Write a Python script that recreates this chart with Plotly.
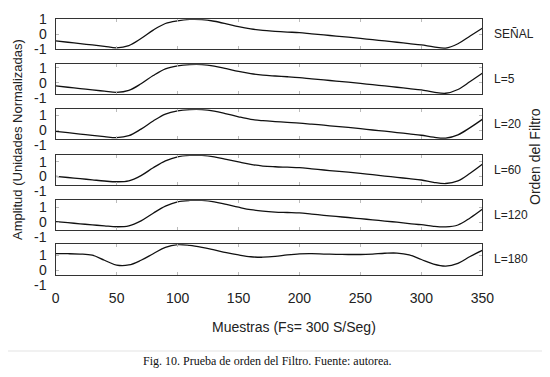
import plotly.graph_objects as go

# ---------------- data ----------------
muestras = list(range(0, 351, 10))

senal = [-0.44, -0.53, -0.62, -0.71, -0.80, -0.90, -0.75, -0.28, 0.28, 0.72, 0.90, 0.99,
         0.98, 0.87, 0.70, 0.51, 0.36, 0.26, 0.20, 0.15, 0.11, 0.03, -0.04, -0.12, -0.19,
         -0.27, -0.36, -0.44, -0.53, -0.62, -0.71, -0.84, -0.92, -0.63, -0.11, 0.40]
l5 = [-0.21, -0.30, -0.39, -0.48, -0.56, -0.64, -0.51, -0.07, 0.48, 0.93, 1.13, 1.21,
      1.21, 1.11, 0.94, 0.76, 0.61, 0.51, 0.45, 0.40, 0.34, 0.26, 0.19, 0.11, 0.04,
      -0.04, -0.13, -0.21, -0.30, -0.39, -0.48, -0.62, -0.70, -0.45, 0.08, 0.63]
l20 = [-0.09, -0.18, -0.27, -0.36, -0.44, -0.51, -0.38, 0.06, 0.60, 1.06, 1.28, 1.36,
       1.36, 1.26, 1.08, 0.88, 0.71, 0.62, 0.56, 0.51, 0.46, 0.39, 0.32, 0.24, 0.17,
       0.09, 0.00, -0.08, -0.17, -0.26, -0.35, -0.48, -0.54, -0.32, 0.16, 0.71]
l60 = [0.00, -0.08, -0.16, -0.24, -0.32, -0.37, -0.31, 0.05, 0.58, 1.05, 1.33, 1.42,
       1.42, 1.33, 1.16, 0.98, 0.81, 0.70, 0.65, 0.62, 0.59, 0.51, 0.43, 0.35, 0.28,
       0.20, 0.11, 0.02, -0.07, -0.16, -0.25, -0.41, -0.49, -0.31, 0.21, 0.82]
l120 = [0.03, -0.04, -0.12, -0.19, -0.26, -0.32, -0.26, 0.08, 0.60, 1.08, 1.38, 1.47,
        1.47, 1.38, 1.20, 1.01, 0.84, 0.74, 0.68, 0.65, 0.62, 0.54, 0.46, 0.38, 0.31,
        0.23, 0.15, 0.07, -0.01, -0.10, -0.18, -0.29, -0.33, -0.20, 0.28, 0.87]
l180 = [1.09, 1.09, 1.07, 0.99, 0.66, 0.34, 0.35, 0.66, 1.09, 1.51, 1.69, 1.64,
        1.51, 1.34, 1.16, 1.01, 0.89, 0.86, 0.91, 1.01, 1.08, 1.09, 1.07, 1.05, 1.04,
        1.04, 1.07, 1.12, 1.13, 1.01, 0.71, 0.41, 0.28, 0.46, 0.91, 1.31]

series = [senal, l5, l20, l60, l120, l180]
series_labels = ["SEÑAL", "L=5", "L=20", "L=60", "L=120", "L=180"]

x_tickvals = [0, 50, 100, 150, 200, 250, 300, 350]
y_tickvals = [1, 0, -1]
y_ticktext = ["1", "0", "-1"]

# upper limit of each panel's y range (each panel spans 2 units)
y_top = [1.0, 1.23, 1.38, 1.43, 1.48, 1.71]
Y_SPAN = 2.0

# ---------------- layout geometry ----------------
# the page body adds an 8 px margin, so the figure is drawn 8 px in from the window corner
OFF = 8
W, H = 550 - 2 * OFF, 377 - 2 * OFF


def px_x(p):
    return (p - OFF) / W


def px_y(p):
    return 1 - (p - OFF) / H


x_dom = [px_x(55.7), px_x(482.3)]
panel_px = [(19.3, 49.3), (64.3, 94.3), (109.3, 139.3), (155.3, 184.7), (200.3, 229.7), (244.3, 274.7)]

FONT = "Arial, Liberation Sans, sans-serif"
TXT = "#222222"

fig = go.Figure()
layout = dict(
    width=W, height=H, autosize=False,
    margin=dict(l=0, r=0, t=0, b=0, autoexpand=False),
    paper_bgcolor="white", plot_bgcolor="white",
    showlegend=False,
    font=dict(family=FONT, size=14, color=TXT),
)
annotations = []

for i, (ys, lab) in enumerate(zip(series, series_labels)):
    k = i + 1
    xa = "x" if k == 1 else f"x{k}"
    ya = "y" if k == 1 else f"y{k}"
    lo, hi = y_top[i] - Y_SPAN, y_top[i]
    fig.add_trace(go.Scatter(x=muestras, y=ys, mode="lines", xaxis=xa, yaxis=ya,
                             line=dict(color="#111111", width=1.3, shape="spline"),
                             hoverinfo="skip"))
    top, bot = panel_px[i]
    last = (k == 6)
    layout["xaxis" if k == 1 else f"xaxis{k}"] = dict(
        domain=x_dom, range=[0, 350], anchor=ya,
        tickvals=x_tickvals, ticks="inside", ticklen=3, tickcolor="#bbbbbb",
        showline=True, linecolor="#333333", linewidth=1.3, mirror="ticks",
        showgrid=False, zeroline=False,
        showticklabels=last, tickfont=dict(size=14, color=TXT),
        ticklabelstandoff=10 if last else 0,
    )
    layout["yaxis" if k == 1 else f"yaxis{k}"] = dict(
        domain=[px_y(bot), px_y(top)], range=[lo, hi], anchor=xa,
        tickvals=y_tickvals, ticks="inside", ticklen=3, tickcolor="#bbbbbb",
        showline=True, linecolor="#333333", linewidth=1.3, mirror="ticks",
        showgrid=False, zeroline=False, showticklabels=False,
    )
    # y tick labels placed on the panel's own scale (some sit just below the box, as in the reference)
    for v, t in zip(y_tickvals, y_ticktext):
        annotations.append(dict(text=t, x=px_x(47.5), xref="paper", xanchor="right",
                                y=(v - lo) / (hi - lo), yref=f"{ya} domain", yanchor="middle",
                                showarrow=False, borderpad=0,
                                font=dict(size=14, color=TXT, family=FONT)))
    # series label at right
    annotations.append(dict(text=lab, x=px_x(491.7), xref="paper", xanchor="left",
                            y=0.5, yref=f"{ya} domain", yanchor="middle", showarrow=False,
                            font=dict(size=12, color=TXT, family=FONT)))

annotations += [
    dict(text="Muestras (Fs= 300 S/Seg)", x=px_x(294), y=px_y(326.7), xref="paper", yref="paper",
         xanchor="center", yanchor="middle",
         showarrow=False, font=dict(size=14, color=TXT, family=FONT)),
    dict(text="Amplitud (Unidades Normalizadas)", x=px_x(17), y=px_y(140), xref="paper",
         yref="paper", xanchor="center", yanchor="middle", textangle=-90, showarrow=False,
         font=dict(size=13, color=TXT, family=FONT)),
    dict(text="Orden del Filtro", x=px_x(535), y=px_y(157), xref="paper", yref="paper",
         xanchor="center", yanchor="middle", textangle=-90, showarrow=False,
         font=dict(size=14, color=TXT, family=FONT)),
    dict(text="Fig. 10. Prueba de orden del Filtro. Fuente: autorea.", x=px_x(267), y=px_y(361),
         xref="paper", yref="paper", xanchor="center", yanchor="middle", showarrow=False,
         borderpad=0, font=dict(size=12, color="#111111", family="Times New Roman, Liberation Serif, serif")),
]
layout["annotations"] = annotations
layout["shapes"] = [dict(type="line", xref="paper", yref="paper", x0=0, x1=1,
                         y0=px_y(351), y1=px_y(351), line=dict(color="#e3e3e3", width=1))]

fig.update_layout(**layout)
fig.write_html("out.html")
